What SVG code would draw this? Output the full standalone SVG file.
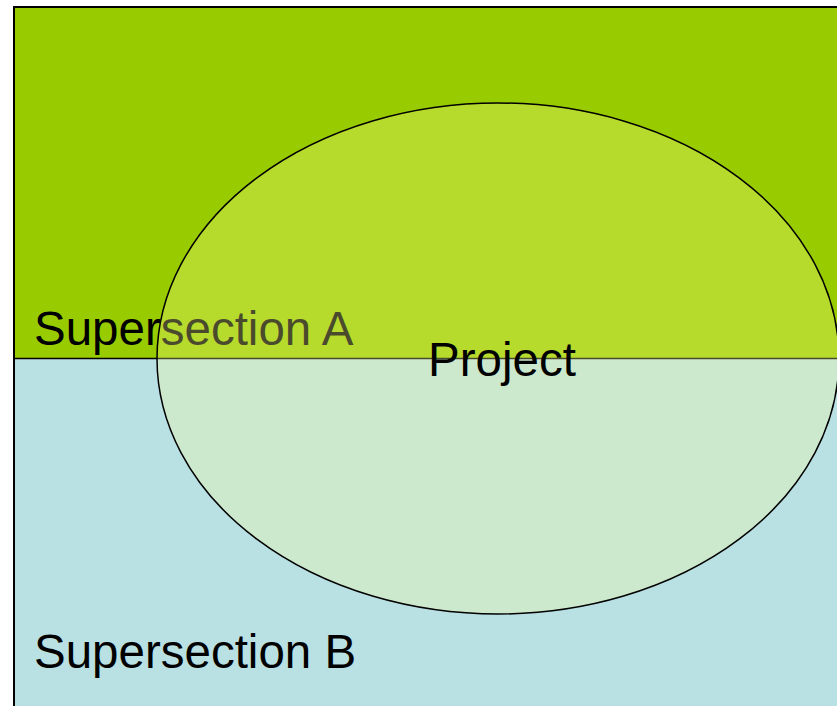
<svg xmlns="http://www.w3.org/2000/svg" width="837" height="706" viewBox="0 0 837 706">
  <style>
    .lbl { font-family: "Liberation Sans", Arial, sans-serif; font-size: 47.5px; fill: #000000; }
  </style>
  <rect x="0" y="0" width="837" height="706" fill="#ffffff"/>
  <g id="supersection-a">
    <rect x="14" y="7" width="830" height="351.5" fill="#99cc00"/>
    <text class="lbl" x="34" y="345">Supersection A</text>
  </g>
  <g id="supersection-b">
    <rect x="14" y="358.5" width="830" height="355" fill="#b9e0e3"/>
  </g>
  <g id="frame">
    <path d="M14 720 V7 H850" fill="none" stroke="#000000" stroke-width="2"/>
    <line x1="14" y1="358.5" x2="850" y2="358.5" stroke="#000000" stroke-width="1.5"/>
  </g>
  <g id="project">
    <ellipse cx="498" cy="358.5" rx="341" ry="255.5" fill="#ffff96" fill-opacity="0.29" stroke="#000000" stroke-width="1.5"/>
    <text class="lbl" x="502" y="376" text-anchor="middle">Project</text>
  </g>
  <g id="supersection-b-label">
    <text class="lbl" x="34" y="668">Supersection B</text>
  </g>
</svg>
